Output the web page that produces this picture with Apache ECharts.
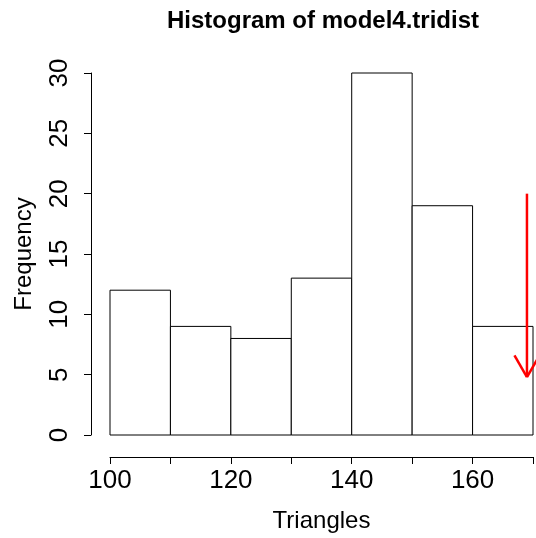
<!DOCTYPE html>
<html>
<head>
<meta charset="utf-8">
<script src="https://cdn.jsdelivr.net/npm/echarts@6/dist/echarts.min.js"></script>
<style>html,body{margin:0;padding:0;background:#fff}#c{width:536px;height:538px}</style>
</head>
<body>
<div id="c"></div>
<script>
var binStart = [100, 110, 120, 130, 140, 150, 160];
var binEnd   = [110, 120, 130, 140, 150, 160, 170];
var counts   = [12, 9, 8, 13, 30, 19, 9];
var xTickLabels = [100, 120, 140, 160];
var arrowX = 169, arrowFrom = 20, arrowTo = 4.8;

var FONT = 'Liberation Sans, Arial, sans-serif';
var barData = binStart.map(function (s, i) { return [s, binEnd[i], counts[i]]; });

var chart = echarts.init(document.getElementById('c'), null, {renderer: 'canvas'});
chart.setOption({
  animation: false,
  backgroundColor: '#fff',
  title: {
    text: 'Histogram of model4.tridist',
    left: 318, top: 4, textAlign: 'center',
    textStyle: {fontFamily: FONT, fontWeight: 'bold', fontSize: 24, color: '#000'}
  },
  grid: {left: 110, right: 3, top: 73, bottom: 97},
  xAxis: {
    type: 'value', min: 100, max: 170, interval: 10,
    offset: 22,
    axisLine: {show: true, onZero: false, lineStyle: {color: '#000', width: 1}},
    axisTick: {show: true, length: 7, lineStyle: {color: '#000'}},
    axisLabel: {
      fontFamily: FONT, fontSize: 26, color: '#000', margin: 11,
      formatter: function (v) { return xTickLabels.indexOf(v) >= 0 ? String(v) : ''; }
    },
    splitLine: {show: false},
    name: 'Triangles', nameLocation: 'middle', nameGap: 52,
    nameTextStyle: {fontFamily: FONT, fontSize: 24, color: '#000'}
  },
  yAxis: {
    type: 'value', min: 0, max: 30, interval: 5,
    offset: 19,
    axisLine: {show: true, lineStyle: {color: '#000', width: 1}},
    axisTick: {show: true, length: 7, lineStyle: {color: '#000'}},
    axisLabel: {fontFamily: FONT, fontSize: 26, color: '#000', rotate: 90, margin: 18},
    splitLine: {show: false},
    name: 'Frequency', nameLocation: 'middle', nameRotate: 90, nameGap: 55,
    nameTextStyle: {fontFamily: FONT, fontSize: 24, color: '#000'}
  },
  series: [
    {
      type: 'custom',
      data: barData,
      renderItem: function (params, api) {
        var p0 = api.coord([api.value(0), api.value(2)]);
        var p1 = api.coord([api.value(1), 0]);
        return {
          type: 'rect',
          shape: {x: p0[0], y: p0[1], width: p1[0] - p0[0], height: p1[1] - p0[1]},
          style: {fill: '#fff', stroke: '#000', lineWidth: 1}
        };
      }
    },
    {
      type: 'custom',
      clip: false,
      data: [[arrowX, arrowFrom, arrowTo]],
      renderItem: function (params, api) {
        var a = api.coord([api.value(0), api.value(1)]);
        var b = api.coord([api.value(0), api.value(2)]);
        var L = 25, ang = Math.PI / 6;
        var dx = L * Math.sin(ang), dy = L * Math.cos(ang);
        var st = {stroke: '#ff0000', lineWidth: 2.5, fill: null};
        return {
          type: 'group',
          children: [
            {type: 'line', shape: {x1: a[0], y1: a[1], x2: b[0], y2: b[1]}, style: st},
            {type: 'line', shape: {x1: b[0] - dx, y1: b[1] - dy, x2: b[0], y2: b[1]}, style: st},
            {type: 'line', shape: {x1: b[0] + dx, y1: b[1] - dy, x2: b[0], y2: b[1]}, style: st}
          ]
        };
      }
    }
  ]
});
</script>
</body>
</html>
